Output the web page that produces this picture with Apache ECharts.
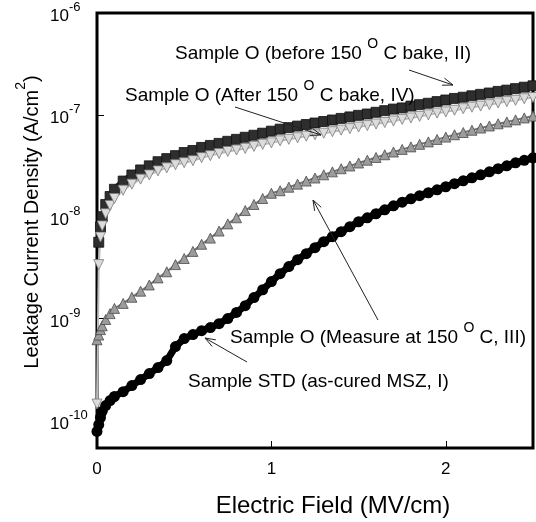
<!DOCTYPE html>
<html>
<head>
<meta charset="utf-8">
<script src="https://cdn.jsdelivr.net/npm/echarts@6/dist/echarts.min.js"></script>
<style>
    html, body { margin: 0; padding: 0; background: #fff; }
    #chart { width: 536px; height: 522px; }
</style>
</head>
<body>
<div id="chart"></div>
<script>
    // electric field (MV/cm)
    var field = [0, 0.01, 0.02, 0.03, 0.05, 0.075, 0.1, 0.15, 0.2, 0.25, 0.3, 0.35, 0.4, 0.45, 0.5,
        0.55, 0.6, 0.65, 0.7, 0.75, 0.8, 0.85, 0.9, 0.95, 1.0, 1.05, 1.1, 1.15, 1.2, 1.25, 1.3,
        1.35, 1.4, 1.45, 1.5, 1.55, 1.6, 1.65, 1.7, 1.75, 1.8, 1.85, 1.9, 1.95, 2.0, 2.05, 2.1,
        2.15, 2.2, 2.25, 2.3, 2.35, 2.4, 2.45, 2.5];

    // leakage current density (A/cm2)
    // Sample STD (as-cured MSZ, I)
    var stdCured = [7.8e-11, 9.1e-11, 1.07e-10, 1.23e-10, 1.40e-10, 1.57e-10, 1.72e-10, 1.92e-10,
        2.20e-10, 2.52e-10, 2.89e-10, 3.31e-10, 3.87e-10, 5.31e-10, 6.37e-10, 6.97e-10, 7.62e-10,
        8.17e-10, 8.93e-10, 1.0e-9, 1.15e-9, 1.34e-9, 1.61e-9, 1.92e-9, 2.31e-9, 2.76e-9, 3.24e-9,
        3.79e-9, 4.34e-9, 4.97e-9, 5.69e-9, 6.37e-9, 7.13e-9, 7.98e-9, 8.93e-9, 9.77e-9, 1.07e-8,
        1.17e-8, 1.28e-8, 1.39e-8, 1.50e-8, 1.61e-8, 1.72e-8, 1.84e-8, 1.97e-8, 2.11e-8, 2.25e-8,
        2.41e-8, 2.58e-8, 2.76e-8, 2.96e-8, 3.16e-8, 3.38e-8, 3.58e-8, 3.79e-8];
    // Sample O (before 150 C bake, II)
    var beforeBake = [null, 5.62e-9, 7.94e-9, 1.0e-8, 1.32e-8, 1.58e-8, 1.86e-8, 2.24e-8, 2.57e-8,
        2.88e-8, 3.16e-8, 3.47e-8, 3.72e-8, 3.98e-8, 4.27e-8, 4.47e-8, 4.79e-8, 5.01e-8, 5.25e-8,
        5.50e-8, 5.75e-8, 6.03e-8, 6.31e-8, 6.61e-8, 6.92e-8, 7.24e-8, 7.50e-8, 7.76e-8, 8.04e-8,
        8.32e-8, 8.61e-8, 8.91e-8, 9.23e-8, 9.55e-8, 9.89e-8, 1.02e-7, 1.06e-7, 1.10e-7, 1.14e-7,
        1.17e-7, 1.22e-7, 1.26e-7, 1.30e-7, 1.35e-7, 1.40e-7, 1.45e-7, 1.49e-7, 1.54e-7, 1.59e-7,
        1.64e-7, 1.70e-7, 1.75e-7, 1.81e-7, 1.87e-7, 1.93e-7];
    // Sample O (Measure at 150 C, III)
    var measureHot = [6.2e-10, 6.9e-10, 7.8e-10, 8.5e-10, 9.8e-10, 1.12e-9, 1.26e-9, 1.41e-9,
        1.62e-9, 1.86e-9, 2.14e-9, 2.51e-9, 2.88e-9, 3.39e-9, 3.89e-9, 4.57e-9, 5.37e-9, 6.17e-9,
        7.24e-9, 8.51e-9, 9.77e-9, 1.15e-8, 1.32e-8, 1.51e-8, 1.70e-8, 1.80e-8, 1.95e-8, 2.09e-8,
        2.24e-8, 2.40e-8, 2.58e-8, 2.76e-8, 2.96e-8, 3.15e-8, 3.37e-8, 3.59e-8, 3.82e-8, 4.06e-8,
        4.32e-8, 4.58e-8, 4.85e-8, 5.14e-8, 5.43e-8, 5.74e-8, 6.05e-8, 6.38e-8, 6.71e-8, 7.06e-8,
        7.43e-8, 7.78e-8, 8.17e-8, 8.53e-8, 8.93e-8, 9.33e-8, 9.73e-8];
    // Sample O (After 150 C bake, IV)
    var afterBake = [1.45e-10, 3.39e-9, 6.31e-9, 8.13e-9, 1.07e-8, 1.29e-8, 1.51e-8, 1.82e-8,
        2.09e-8, 2.34e-8, 2.57e-8, 2.82e-8, 3.02e-8, 3.24e-8, 3.39e-8, 3.55e-8, 3.80e-8, 3.98e-8,
        4.17e-8, 4.37e-8, 4.52e-8, 4.68e-8, 4.90e-8, 5.13e-8, 5.31e-8, 5.56e-8, 5.75e-8, 5.96e-8,
        6.17e-8, 6.38e-8, 6.61e-8, 6.84e-8, 7.08e-8, 7.33e-8, 7.59e-8, 7.85e-8, 8.13e-8, 8.41e-8,
        8.71e-8, 9.02e-8, 9.33e-8, 9.66e-8, 1.00e-7, 1.04e-7, 1.07e-7, 1.11e-7, 1.15e-7, 1.19e-7,
        1.22e-7, 1.26e-7, 1.31e-7, 1.35e-7, 1.39e-7, 1.44e-7, 1.48e-7];

    var FONT = '"Liberation Sans", Arial, sans-serif';

    function pairs(vals) {
        var out = [];
        for (var i = 0; i < field.length; i++) {
            if (vals[i] != null) out.push([field[i], vals[i]]);
        }
        return out;
    }

    // thin line with an open arrow head at the "to" end
    function arrow(x1, y1, x2, y2) {
        var a = Math.atan2(y2 - y1, x2 - x1);
        var len = 11, spread = 0.35;
        var p1 = [x2 - len * Math.cos(a - spread), y2 - len * Math.sin(a - spread)];
        var p2 = [x2 - len * Math.cos(a + spread), y2 - len * Math.sin(a + spread)];
        var ls = { stroke: '#222', lineWidth: 1 };
        return [
            { type: 'line', shape: { x1: x1, y1: y1, x2: x2, y2: y2 }, style: ls, z: 10 },
            { type: 'polyline', shape: { points: [p1, [x2, y2], p2] }, style: { stroke: '#222', lineWidth: 1, fill: null }, z: 10 }
        ];
    }

    var annoRich = {
        t: { fontSize: 19, fontFamily: FONT, fill: '#000', lineHeight: 26, verticalAlign: 'bottom' },
        o: { fontSize: 14, fontFamily: FONT, fill: '#000', lineHeight: 14, verticalAlign: 'top' }
    };

    function anno(x, y, before, after) {
        return {
            type: 'text', x: x, y: y, z: 10,
            style: {
                text: '{t|' + before + '}{o|O}{t|' + after + '}',
                rich: annoRich, align: 'left', verticalAlign: 'middle'
            }
        };
    }

    var graphics = [
        anno(175, 50, 'Sample O (before 150 ', ' C bake, II)'),
        anno(125, 92, 'Sample O (After 150 ', ' C bake, IV)'),
        anno(230, 334, 'Sample O (Measure at 150 ', ' C, III)'),
        {
            type: 'text', x: 188, y: 382, z: 10,
            style: { text: 'Sample STD (as-cured MSZ, I)', fontSize: 19, fontFamily: FONT, fill: '#000', align: 'left', verticalAlign: 'middle' }
        },
        {
            type: 'text', x: 333, y: 506, z: 10,
            style: { text: 'Electric Field (MV/cm)', fontSize: 24, fontFamily: FONT, fill: '#000', align: 'center', verticalAlign: 'middle' }
        },
        {
            type: 'text', x: 28, y: 222, rotation: Math.PI / 2, z: 10,
            style: {
                text: '{t|Leakage Current Density (A/cm}{s|2}{t|)}',
                rich: {
                    t: { fontSize: 20, fontFamily: FONT, fill: '#000', lineHeight: 28, verticalAlign: 'bottom' },
                    s: { fontSize: 14, fontFamily: FONT, fill: '#000', lineHeight: 14, verticalAlign: 'top' }
                },
                align: 'center', verticalAlign: 'middle'
            }
        }
    ];
    graphics = graphics
        .concat(arrow(409, 70, 453, 85))
        .concat(arrow(235, 107, 321, 135))
        .concat(arrow(378, 320, 313, 200))
        .concat(arrow(247, 362, 205, 338));

    var chart = echarts.init(document.getElementById('chart'));
    var option = {
        backgroundColor: '#fff',
        animation: false,
        grid: {
            left: 97, right: 3, top: 13, bottom: 74,
            containLabel: false,
            show: true, borderColor: '#000', borderWidth: 3, backgroundColor: 'transparent'
        },
        xAxis: {
            type: 'value', min: 0, max: 2.5, interval: 1,
            axisLine: { show: false },
            axisTick: { inside: true, length: 7, lineStyle: { color: '#000', width: 1 } },
            splitLine: { show: false },
            axisLabel: {
                color: '#000', fontSize: 17, fontFamily: FONT, margin: 13,
                formatter: function (v) { return v % 1 === 0 ? String(v) : ''; }
            }
        },
        yAxis: {
            type: 'log', logBase: 10, min: 5.37e-11, max: 1e-6,
            axisLine: { show: false },
            axisTick: { inside: true, length: 7, lineStyle: { color: '#000', width: 1 } },
            splitLine: { show: false },
            minorTick: { show: false },
            axisLabel: {
                align: 'left', margin: 47,
                formatter: function (v) {
                    var e = Math.log10(v);
                    if (Math.abs(e - Math.round(e)) > 0.01) return '';
                    return '{b|10}{s|' + Math.round(e) + '}';
                },
                rich: {
                    b: { fontSize: 17, fontFamily: FONT, color: '#000', lineHeight: 24, verticalAlign: 'bottom' },
                    s: { fontSize: 13, fontFamily: FONT, color: '#000', lineHeight: 13, verticalAlign: 'top' }
                }
            }
        },
        series: [
            {
                name: 'I', type: 'line', data: pairs(stdCured), clip: false,
                symbol: 'circle', symbolSize: 11,
                lineStyle: { color: '#000', width: 7 },
                itemStyle: { color: '#000', borderColor: '#000', borderWidth: 0 }
            },
            {
                name: 'III', type: 'line', data: pairs(measureHot), clip: false,
                symbol: 'triangle', symbolSize: 10,
                lineStyle: { color: '#777', width: 2 },
                itemStyle: { color: '#9c9c9c', borderColor: '#4a4a4a', borderWidth: 0.8 }
            },
            {
                name: 'II', type: 'line', data: pairs(beforeBake), clip: false,
                symbol: 'rect', symbolSize: 10,
                lineStyle: { color: '#222', width: 6 },
                itemStyle: { color: '#2e2e2e', borderColor: '#111', borderWidth: 0.8 }
            },
            {
                name: 'IV', type: 'line', data: pairs(afterBake), clip: false,
                symbol: 'triangle', symbolSize: 10, symbolRotate: 180,
                lineStyle: { color: '#bbb', width: 2 },
                itemStyle: { color: '#dcdcdc', borderColor: '#7a7a7a', borderWidth: 0.8 }
            }
        ],
        graphic: graphics
    };
    chart.setOption(option);
</script>
</body>
</html>
